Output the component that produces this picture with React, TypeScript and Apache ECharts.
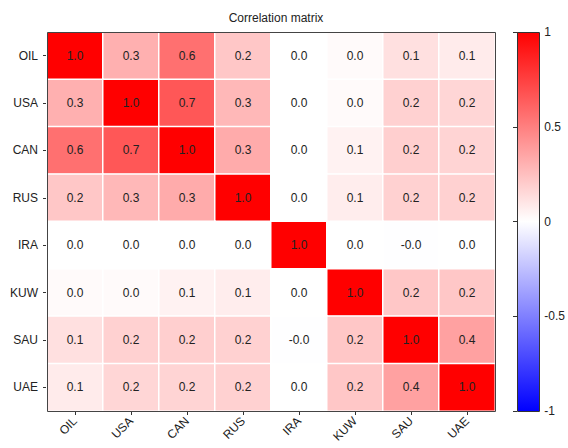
import React, { useEffect, useRef } from "react";
import * as echarts from "echarts";

const labels = ["OIL", "USA", "CAN", "RUS", "IRA", "KUW", "SAU", "UAE"];
const rowOIL = [1, 0.31, 0.56, 0.22, 0.0, 0.02, 0.12, 0.08];
const rowUSA = [0.31, 1, 0.66, 0.28, 0.0, 0.02, 0.18, 0.16];
const rowCAN = [0.56, 0.66, 1, 0.33, 0.0, 0.05, 0.19, 0.17];
const rowRUS = [0.22, 0.28, 0.33, 1, 0.0, 0.07, 0.18, 0.18];
const rowIRA = [0.0, 0.0, 0.0, 0.0, 1, 0.0, -0.004, 0.0];
const rowKUW = [0.02, 0.02, 0.05, 0.07, 0.0, 1, 0.22, 0.22];
const rowSAU = [0.12, 0.18, 0.19, 0.18, -0.004, 0.22, 1, 0.37];
const rowUAE = [0.08, 0.16, 0.17, 0.18, 0.0, 0.22, 0.37, 1];
const rows = [rowOIL, rowUSA, rowCAN, rowRUS, rowIRA, rowKUW, rowSAU, rowUAE];
const colorbarTicks = [-1, -0.5, 0, 0.5, 1];

const FONT = "Liberation Sans, Arial, Helvetica, sans-serif";

export default function App() {
  const ref = useRef<HTMLDivElement>(null);
  useEffect(() => {
    const chart = echarts.init(ref.current!, null, { renderer: "svg" });
    const data: any[] = [];
    rows.forEach((r, i) => r.forEach((v, j) => data.push([j, i, v])));
    const left = 47, right = 495, top = 32, bottom = 411;
    const cbLeft = 517, cbW = 22;
    chart.setOption({
      animation: false,
      textStyle: { fontFamily: FONT },
      title: {
        text: "Correlation matrix",
        left: (left + right) / 2,
        textAlign: "center",
        top: 7,
        textStyle: { fontSize: 12, fontWeight: "normal", color: "#222", fontFamily: FONT },
      },
      grid: [
        { left, top, width: right - left, height: bottom - top, show: false },
        { left: cbLeft, top, width: cbW, height: bottom - top, show: false },
      ],
      xAxis: [
        {
          type: "category", data: labels, gridIndex: 0,
          axisTick: { show: true, alignWithLabel: true, length: 4, lineStyle: { color: "#333" } },
          axisLine: { show: false },
          axisLabel: { rotate: 45, fontSize: 12, color: "#222", fontFamily: FONT, margin: 8 },
          splitLine: { show: false },
        },
        { type: "value", gridIndex: 1, show: false, min: 0, max: 1 },
      ],
      yAxis: [
        {
          type: "category", data: labels, gridIndex: 0, inverse: true,
          axisTick: { show: true, alignWithLabel: true, length: 4, lineStyle: { color: "#333" } },
          axisLine: { show: false },
          axisLabel: { fontSize: 12, color: "#222", fontFamily: FONT, margin: 9 },
          splitLine: { show: false },
        },
        {
          type: "value", gridIndex: 1, min: -1, max: 1, interval: 0.5, position: "right",
          axisLine: { show: false },
          axisTick: { show: true, inside: true, length: 4, lineStyle: { color: "#333" } },
          axisLabel: {
            fontSize: 12, color: "#222", fontFamily: FONT, margin: 9,
            formatter: (v: number) => (colorbarTicks.includes(v) ? String(v) : ""),
          },
          splitLine: { show: false },
        },
      ],
      visualMap: {
        show: false, min: -1, max: 1, seriesIndex: 0, dimension: 2,
        inRange: { color: ["#0000ff", "#ffffff", "#ff0000"] },
      },
      graphic: [
        {
          type: "rect", z: -1,
          shape: { x: cbLeft, y: top, width: cbW, height: bottom - top },
          style: {
            fill: new echarts.graphic.LinearGradient(0, 0, 0, 1, [
              { offset: 0, color: "#ff0000" },
              { offset: 0.5, color: "#ffffff" },
              { offset: 1, color: "#0000ff" },
            ]),
          },
        },
        {
          type: "rect", z: 100,
          shape: { x: cbLeft + 0.5, y: top + 0.5, width: cbW, height: bottom - top },
          style: { fill: "none", stroke: "#333", lineWidth: 1 },
        },
        {
          type: "rect", z: 100,
          shape: { x: left + 0.5, y: top + 0.5, width: right - left, height: bottom - top },
          style: { fill: "none", stroke: "#444", lineWidth: 1 },
        },
      ],
      series: [
        {
          type: "heatmap", xAxisIndex: 0, yAxisIndex: 0, data,
          itemStyle: { borderColor: "#ffffff", borderWidth: 1.5 },
          label: {
            show: true, fontSize: 12, color: "#222", fontFamily: FONT,
            formatter: (p: any) => (p.value[2] as number).toFixed(1),
          },
          emphasis: { disabled: true },
        },
      ],
    });
    return () => chart.dispose();
  }, []);
  return <div ref={ref} style={{ position: "absolute", left: 0, top: 0, width: 568, height: 448 }} />;
}
